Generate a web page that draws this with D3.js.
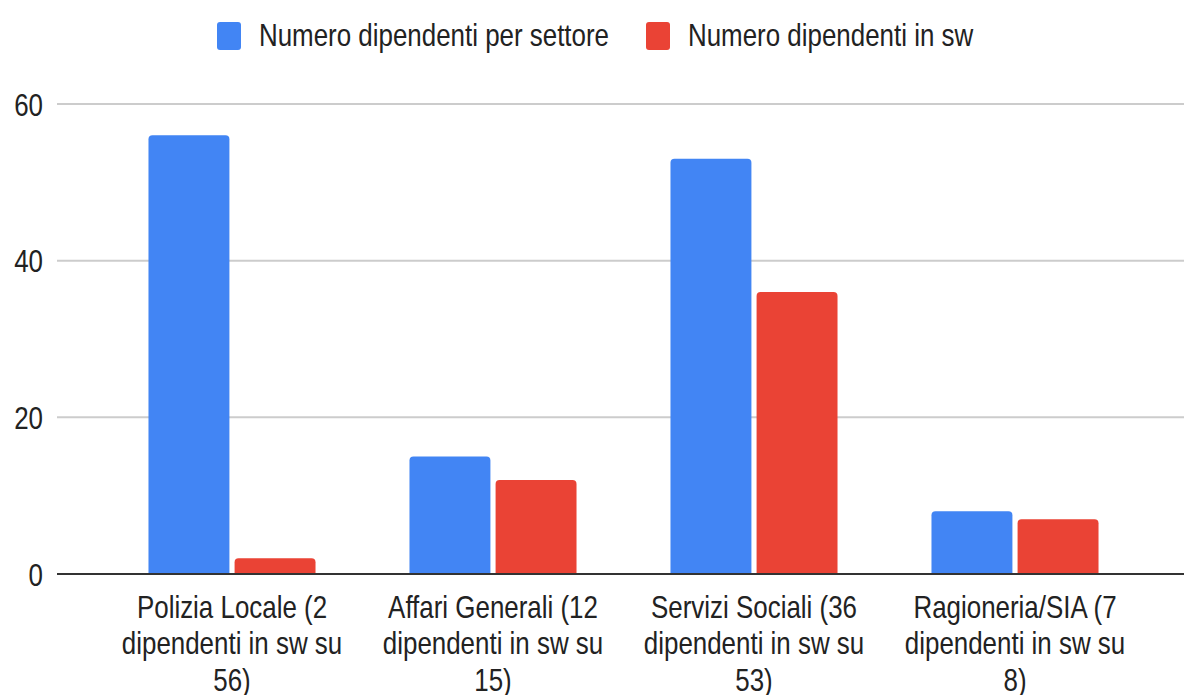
<!DOCTYPE html>
<html>
<head>
<meta charset="utf-8">
<script src="https://cdn.jsdelivr.net/npm/d3@7"></script>
<style>
  html, body { margin: 0; padding: 0; background: #fff; }
  svg text { font-family: "Liberation Sans", Arial, sans-serif; fill: #222; }
</style>
</head>
<body>
<svg id="chart" width="1184" height="695"></svg>
<script>
// Settori e numero di dipendenti
const categories = [
  "Polizia Locale (2 dipendenti in sw su 56)",
  "Affari Generali (12 dipendenti in sw su 15)",
  "Servizi Sociali (36 dipendenti in sw su 53)",
  "Ragioneria/SIA (7 dipendenti in sw su 8)"
];
const seriesNames = ["Numero dipendenti per settore", "Numero dipendenti in sw"];
const dipendentiPerSettore = [56, 15, 53, 8];
const dipendentiInSw = [2, 12, 36, 7];
const yTicks = [0, 20, 40, 60];
const colors = ["#4285F4", "#EA4335"];

const FONT_SIZE = 32;
const NARROW = 0.81; // testo condensato orizzontalmente

const svg = d3.select("#chart");
const plotLeft = 57, plotRight = 1184;

const x = d3.scaleBand().domain(categories).range([101.5, 1145.5]).paddingInner(0.36).paddingOuter(0.18);
const xs = d3.scaleBand().domain([0, 1]).range([0, x.bandwidth()]).paddingInner(0.06);
const y = d3.scaleLinear().domain([0, 60]).range([574, 104]);

// griglia orizzontale
svg.append("g").selectAll("line")
  .data(yTicks.filter(d => d !== 0))
  .join("line")
  .attr("x1", plotLeft).attr("x2", plotRight)
  .attr("y1", d => y(d)).attr("y2", d => y(d))
  .attr("stroke", "#cccccc").attr("stroke-width", 2);

// etichette asse y
const yAxis = d3.axisLeft(y).tickValues(yTicks).tickSize(0).tickPadding(0);
const gy = svg.append("g").attr("transform", "translate(43,0)").call(yAxis);
gy.select(".domain").remove();
gy.selectAll("text")
  .attr("x", 0).attr("dy", "0.35em")
  .attr("font-size", FONT_SIZE)
  .attr("font-family", '"Liberation Sans", Arial, sans-serif')
  .attr("fill", "#222")
  .attr("transform", `scale(${NARROW},1)`);

// barre con angoli superiori arrotondati
function topRounded(x0, y0, w, h, r) {
  r = Math.min(r, h, w / 2);
  return `M${x0},${y0 + h}V${y0 + r}Q${x0},${y0} ${x0 + r},${y0}H${x0 + w - r}Q${x0 + w},${y0} ${x0 + w},${y0 + r}V${y0 + h}Z`;
}
const rows = categories.map((c, i) => ({ c, vals: [dipendentiPerSettore[i], dipendentiInSw[i]] }));
const groups = svg.append("g").selectAll("g")
  .data(rows).join("g")
  .attr("transform", d => `translate(${x(d.c)},0)`);
groups.selectAll("path")
  .data(d => d.vals.map((v, k) => ({ v, k })))
  .join("path")
  .attr("d", d => topRounded(xs(d.k), y(d.v), xs.bandwidth(), y(0) - y(d.v), 4))
  .attr("fill", d => colors[d.k]);

// linea di base
svg.append("line")
  .attr("x1", plotLeft).attr("x2", plotRight)
  .attr("y1", y(0)).attr("y2", y(0))
  .attr("stroke", "#333").attr("stroke-width", 2);

// etichette asse x, a capo su più righe
const xAxis = d3.axisBottom(x).tickSize(0).tickPadding(0);
const gx = svg.append("g").call(xAxis);
gx.select(".domain").remove();
const maxLine = 240 / NARROW;
gx.selectAll(".tick text").each(function (d) {
  const t = d3.select(this);
  t.text(null).attr("y", 0).attr("dy", null)
    .attr("font-size", FONT_SIZE).attr("fill", "#222")
    .attr("font-family", '"Liberation Sans", Arial, sans-serif')
    .attr("transform", `scale(${NARROW},1)`);
  const words = d.split(" ");
  const lines = [];
  let line = [];
  const probe = t.append("tspan");
  for (const w of words) {
    const test = line.concat(w).join(" ");
    probe.text(test);
    if (probe.node().getComputedTextLength() > maxLine && line.length) {
      lines.push(line.join(" "));
      line = [w];
    } else line.push(w);
  }
  lines.push(line.join(" "));
  probe.remove();
  lines.forEach((l, i) => {
    t.append("tspan").attr("x", 0).attr("y", 618 + i * 36.5).text(l);
  });
});

// legenda
const legendX = [217, 646];
const lg = svg.append("g").selectAll("g").data(seriesNames).join("g")
  .attr("transform", (d, i) => `translate(${legendX[i]},0)`);
lg.append("rect").attr("x", 0).attr("y", 22).attr("width", 24).attr("height", 28).attr("rx", 3)
  .attr("fill", (d, i) => colors[i]);
lg.append("text")
  .attr("transform", `translate(42,46) scale(${NARROW},1)`)
  .attr("font-size", FONT_SIZE).text(d => d);
</script>
</body>
</html>
